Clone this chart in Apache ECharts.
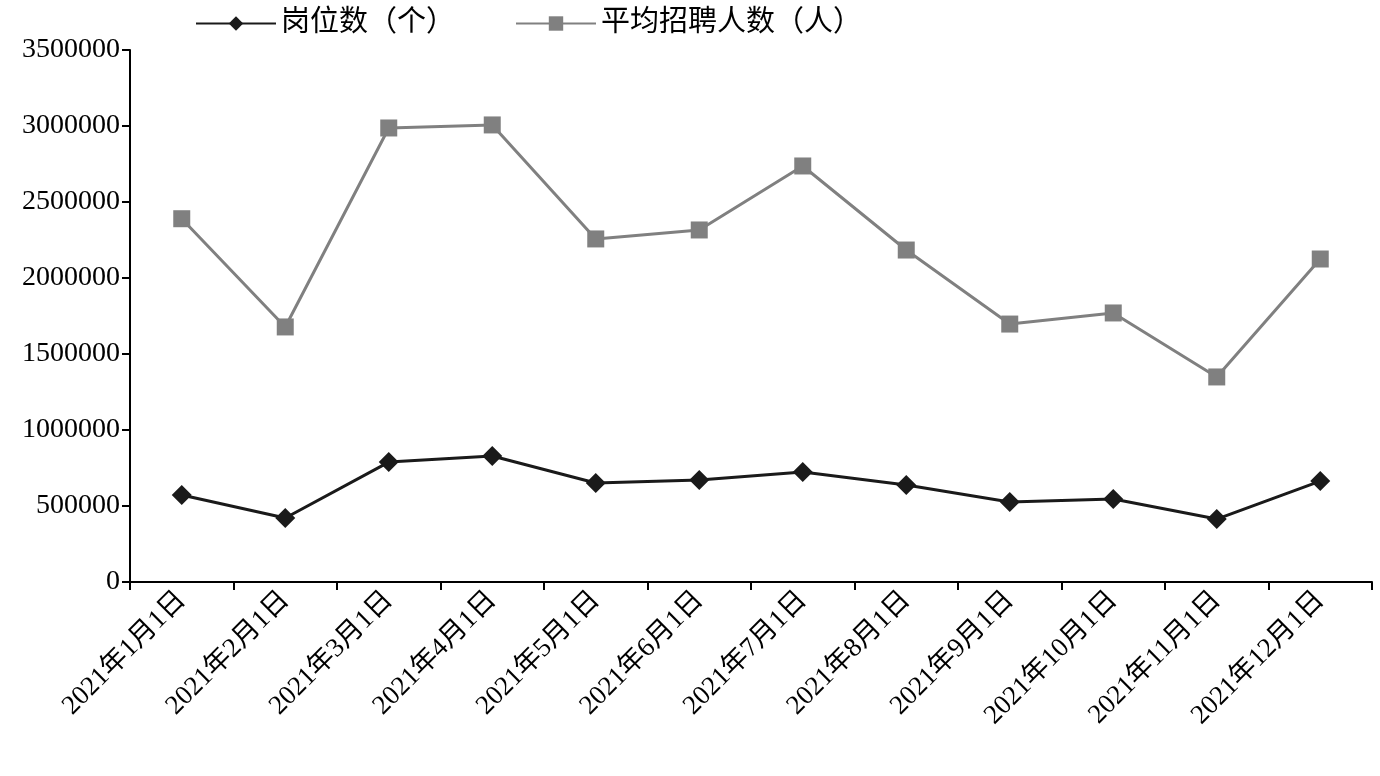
<!DOCTYPE html><html><head><meta charset="utf-8"><script src="https://cdn.jsdelivr.net/npm/echarts@6/dist/echarts.min.js"></script></head><body style="margin:0"><div id="c" style="width:1380px;height:776px"></div><script>
const categories=['2021年1月1日','2021年2月1日','2021年3月1日','2021年4月1日','2021年5月1日','2021年6月1日','2021年7月1日','2021年8月1日','2021年9月1日','2021年10月1日','2021年11月1日','2021年12月1日'];
const posts=[572000,421000,789000,829000,651000,671000,724000,638000,526000,546000,414000,664000];
const avgHire=[2390000,1678000,2987000,3007000,2257000,2316000,2737000,2184000,1697000,1770000,1349000,2125000];
const font='"Liberation Serif","Noto Sans CJK SC",serif';
const ch=echarts.init(document.getElementById('c'));
ch.setOption({
animation:false,
textStyle:{fontFamily:font},
legend:{top:4,left:190,itemWidth:80,itemHeight:18,itemGap:60,textStyle:{fontSize:29,color:'#000',fontFamily:font},
data:['岗位数（个）','平均招聘人数（人）']},
grid:{left:130,right:8,top:50,bottom:194},
xAxis:{type:'category',data:categories,boundaryGap:true,
axisLine:{lineStyle:{color:'#000',width:2}},axisTick:{show:true,length:8,lineStyle:{color:'#000',width:2}},
axisLabel:{rotate:45,fontSize:27,color:'#000',fontFamily:font,margin:14,interval:0}},
yAxis:{type:'value',min:0,max:3500000,interval:500000,splitLine:{show:false},
axisLine:{show:true,lineStyle:{color:'#000',width:2}},axisTick:{show:true,length:8,lineStyle:{color:'#000',width:2}},
axisLabel:{fontSize:28,color:'#000',fontFamily:font,margin:10,formatter:v=>String(v)}},
series:[
{name:'岗位数（个）',type:'line',data:posts,symbol:'diamond',symbolSize:20,color:'#1a1a1a',lineStyle:{width:3,color:'#1a1a1a'},itemStyle:{color:'#1a1a1a'}},
{name:'平均招聘人数（人）',type:'line',data:avgHire,symbol:'rect',symbolSize:17,color:'#808080',lineStyle:{width:3,color:'#808080'},itemStyle:{color:'#808080'}}
]});
</script></body></html>
